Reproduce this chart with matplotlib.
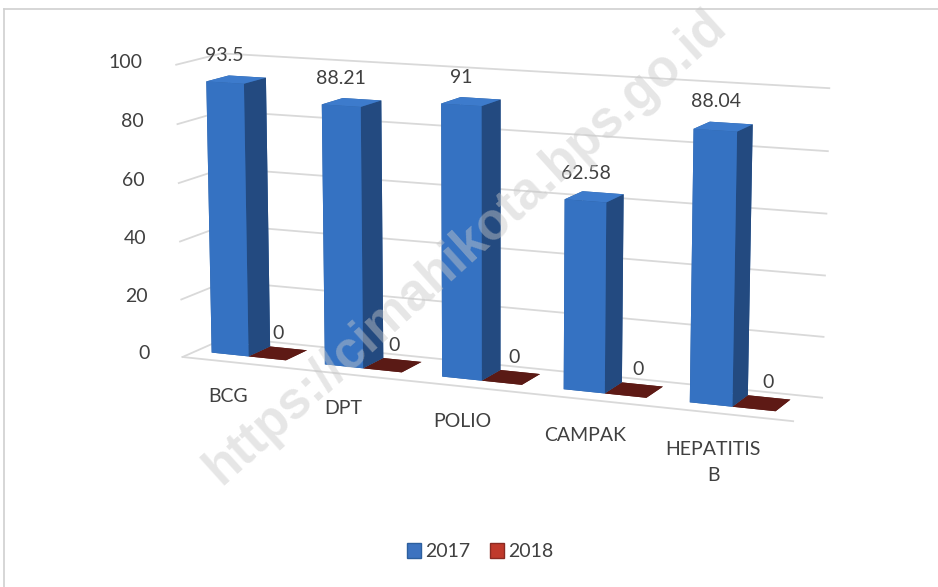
import numpy as np
import matplotlib
matplotlib.use('Agg')
import matplotlib.pyplot as plt
from matplotlib.patches import Patch
from matplotlib.lines import Line2D

plt.rcParams['font.family'] = ['Lato', 'DejaVu Sans']

categories = ['BCG', 'DPT', 'POLIO', 'CAMPAK', 'HEPATITIS\nB']
val2017 = [93.5, 88.21, 91, 62.58, 88.04]
val2018 = [0, 0, 0, 0, 0]
lab2017 = ['93.5', '88.21', '91', '62.58', '88.04']
lab2018 = ['0', '0', '0', '0', '0']
yticks = [0, 20, 40, 60, 80, 100]

txt = '#404040'
grid = '#d9d9d9'

fig = plt.figure(figsize=(9.38, 5.87), dpi=100)
# 3d axes are forced square, so give them a tall box reaching past the figure
ax = fig.add_axes([0.012, -0.21, 1.0, 1.6], projection='3d',
                  proj_type='persp', focal_length=0.55)
ax.view_init(elev=11, azim=-67)
ax.set_xlim(0, 5)
ax.set_ylim(0, 1)
ax.set_zlim(0, 100)
ax.set_box_aspect((662, 97, 307), zoom=0.76)
ax.set_axis_off()

n = len(categories)
xs = np.arange(n)
bw = 0.33
off = 0.14
# gridlines on back wall and left wall
for v in yticks:
    ax.plot([0, 5], [1, 1], [v, v], color=grid, lw=1.3, zorder=0)
    ax.plot([0, 0], [0, 1], [v, v], color=grid, lw=1.3, zorder=0)
ax.plot([0, 5], [0, 0], [0, 0], color=grid, lw=1.3, zorder=0)

# bars
bx = np.concatenate([xs + off, xs + off + bw])
by = np.full(2 * n, 0.3)
bz = np.zeros(2 * n)
dx = np.full(2 * n, bw)
dy = np.full(2 * n, 0.5)
dz = np.array(val2017 + val2018, dtype=float)
blue_faces = ['#2d5f9e', '#3d7bcc', '#3572c2', '#2d5f9e', '#2d5f9e', '#234a80']
red_faces = ['#5a1a15', '#5e1a15', '#5e1a15', '#5e1a15', '#5e1a15', '#5e1a15']
colors = blue_faces * n + red_faces * n
ax.bar3d(bx, by, bz, dx, dy, dz, color=colors, shade=False, edgecolor='none')

# labels
for i in range(n):
    ax.text(xs[i] + off + bw / 2, 0.3, val2017[i] + 9, lab2017[i],
            ha='center', va='center', fontsize=14, color=txt, zorder=50)
    ax.text(xs[i] + off + bw * 1.5 + 0.1, 0.3, val2018[i] + 9, lab2018[i],
            ha='center', va='center', fontsize=14, color=txt, zorder=50)
    ax.text(xs[i] + 0.4, 0, -9, categories[i], ha='center', va='top',
            fontsize=14, color=txt, linespacing=1.7, zorder=50)
for v in yticks:
    ax.text(-0.3, 0, v, str(v), ha='right', va='center', fontsize=14, color=txt)

handles = [Patch(facecolor='#3d73c0', edgecolor='#2d5f9e'),
           Patch(facecolor='#c0392b', edgecolor='#8a2a22')]
fig.legend(handles, ['2017', '2018'], loc='center', bbox_to_anchor=(0.512, 0.06),
           ncol=2, frameon=False, fontsize=14, handlelength=0.75, handleheight=0.75,
           handletextpad=0.2, columnspacing=1.0, labelcolor=txt)

# watermark
fig.text(0.496, 0.579, 'https://cimahikota.bps.go.id', rotation=42, fontsize=37,
         fontweight='bold', color='#c8c8c8', alpha=0.45, ha='center', va='center',
         family='Liberation Sans', zorder=60)

# outer border (top and left only visible)
fig.add_artist(Line2D([4 / 938, 1], [1 - 9 / 587, 1 - 9 / 587], color='#d0d0d0', lw=1.2))
fig.add_artist(Line2D([4 / 938, 4 / 938], [0, 1 - 9 / 587], color='#d0d0d0', lw=1.2))

fig.savefig('out.png', dpi=100)
